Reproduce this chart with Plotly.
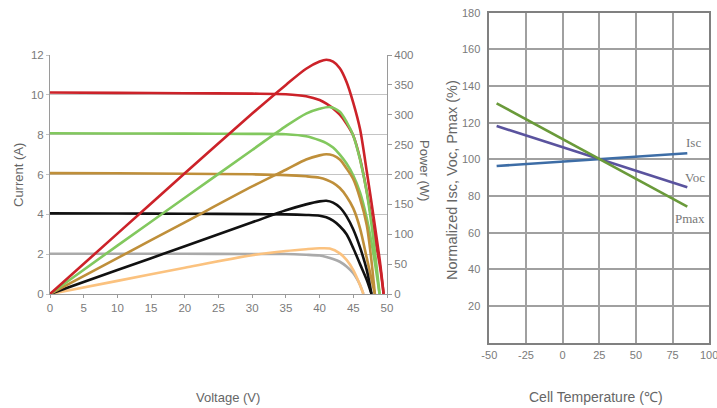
import plotly.graph_objects as go

W, H = 717, 408

# ---------------- Left chart data (I-V and P-V curves) ----------------
v_red_iv = [0, 10, 20, 30, 35, 38, 40, 41, 42, 43, 44, 45, 46, 47, 48, 49, 49.5]
i_red = [10.12, 10.10, 10.08, 10.06, 10.03, 9.93, 9.74, 9.56, 9.32, 9.0, 8.55, 7.95, 6.8, 5.15, 3.2, 1.3, 0]
v_red_p = [0, 10, 20, 30, 35, 38, 40, 41, 42, 43, 44, 45, 46, 47, 48, 49, 49.5]
p_red = [0, 101, 202, 302, 350, 377, 389, 392, 389, 378, 355, 320, 276, 205, 130, 50, 0]

v_green_iv = [0, 10, 20, 30, 35, 38, 40, 41, 42, 43, 44, 45, 46, 47, 48, 48.9]
i_green = [8.07, 8.06, 8.05, 8.04, 8.02, 7.92, 7.72, 7.58, 7.35, 7.0, 6.55, 5.95, 5.1, 3.8, 2.0, 0]
v_green_p = [0, 10, 20, 30, 35, 38, 40, 41.5, 43, 44, 45, 46, 47, 48, 48.9]
p_green = [0, 81, 161, 241, 281, 302, 310, 313, 305, 288, 265, 225, 170, 90, 0]

v_gold_iv = [0, 10, 20, 30, 35, 38, 40, 41, 42, 43, 44, 45, 46, 47, 48.2]
i_gold = [6.07, 6.06, 6.04, 6.01, 5.97, 5.91, 5.84, 5.74, 5.58, 5.32, 4.9, 4.3, 3.3, 1.8, 0]
v_gold_p = [0, 10, 20, 30, 35, 38, 40, 41, 42, 43, 44, 45, 46, 47, 47.6, 48.2]
p_gold = [0, 60, 120, 180, 208, 225, 232, 234, 232, 225, 210, 192, 160, 115, 65, 0]

v_black_iv = [0, 10, 20, 30, 35, 38, 40, 41, 42, 43, 44, 45, 46, 47, 47.7]
i_black = [4.05, 4.04, 4.03, 4.01, 4.0, 3.97, 3.93, 3.85, 3.68, 3.4, 3.0, 2.3, 1.5, 0.7, 0]
v_black_p = [0, 10, 20, 30, 35, 38, 40, 41, 42, 43, 44, 45, 46, 47, 47.7]
p_black = [0, 40, 80, 120, 140, 150, 155, 156, 153, 145, 130, 108, 78, 40, 0]

v_gray_iv = [0, 10, 20, 30, 35, 38, 40, 41, 42, 43, 44, 45, 45.5, 46, 46.5]
i_gray = [2.02, 2.02, 2.02, 2.01, 2.01, 1.97, 1.93, 1.86, 1.76, 1.62, 1.38, 1.04, 0.78, 0.45, 0]
v_orange_p = [0, 10, 20, 30, 35, 38, 40, 41.5, 43, 44, 45, 46, 46.5]
p_orange = [0, 22, 44, 65, 72, 75, 76.5, 76, 68, 57, 40, 15, 0]

current_ticks = [0, 2, 4, 6, 8, 10, 12]
power_ticks = [0, 50, 100, 150, 200, 250, 300, 350, 400]
voltage_ticks = [0, 5, 10, 15, 20, 25, 30, 35, 40, 45, 50]

# ---------------- Right chart data (temperature coefficients) ----------------
temp_x = [-45, 85]
isc_y = [96.4, 103.3]
voc_y = [118.2, 84.8]
pmax_y = [130.6, 74.2]
temp_ticks = [-50, -25, 0, 25, 50, 75, 100]
temp_labels = ["-50", "-25", "0", "25", "50", "75", "100"]
norm_ticks = [20, 40, 60, 80, 100, 120, 140, 160, 180]

RED = "#cc2229"
GREEN = "#82c85e"
GOLD = "#bf8f3a"
BLACK = "#111111"
GRAY = "#aaaaaa"
ORANGE = "#fbc27f"

fig = go.Figure()

def add_line(x, y, color, yaxis="y", xaxis="x", width=2.6):
    fig.add_trace(go.Scatter(x=x, y=y, mode="lines", xaxis=xaxis, yaxis=yaxis,
                             line=dict(color=color, width=width, shape="spline", smoothing=0.8),
                             hoverinfo="skip", showlegend=False))

add_line(v_gray_iv, i_gray, GRAY)
add_line(v_orange_p, p_orange, ORANGE, yaxis="y2")
add_line(v_black_iv, i_black, BLACK)
add_line(v_black_p, p_black, BLACK, yaxis="y2")
add_line(v_gold_iv, i_gold, GOLD)
add_line(v_gold_p, p_gold, GOLD, yaxis="y2")
add_line(v_green_iv, i_green, GREEN)
add_line(v_green_p, p_green, GREEN, yaxis="y2")
add_line(v_red_iv, i_red, RED)
add_line(v_red_p, p_red, RED, yaxis="y2")

for yy, col in [(isc_y, "#3d6da6"), (voc_y, "#5a539e"), (pmax_y, "#6a9a3a")]:
    fig.add_trace(go.Scatter(x=temp_x, y=yy, mode="lines", xaxis="x2", yaxis="y3",
                             line=dict(color=col, width=2.6), hoverinfo="skip", showlegend=False))

def px_x(p):
    return p / W

def px_y(p):
    return 1 - p / H

tick_font = dict(family="Liberation Sans, Arial, sans-serif", size=11.5, color="#7a7a7a")
tick_font_r = dict(family="Liberation Sans, Arial, sans-serif", size=11, color="#7a7a7a")
title_font = dict(family="Liberation Sans, Arial, sans-serif", size=13, color="#666666")

fig.update_layout(
    width=W, height=H,
    margin=dict(l=0, r=0, t=0, b=0, autoexpand=False),
    paper_bgcolor="white", plot_bgcolor="white",
    showlegend=False,
    xaxis=dict(domain=[px_x(50), px_x(387)], range=[0, 50], tickvals=voltage_ticks,
               showgrid=False, zeroline=False, showline=True, linecolor="#9a9a9a", linewidth=1,
               ticks="outside", ticklen=3, tickcolor="#9a9a9a", tickfont=tick_font,
               anchor="y", automargin=False),
    yaxis=dict(domain=[px_y(294), px_y(55)], range=[0, 12], tickvals=current_ticks,
               showgrid=True, gridcolor="#c4c4c4", gridwidth=1, zeroline=False,
               showline=True, linecolor="#9a9a9a", linewidth=1,
               ticks="outside", ticklen=3, tickcolor="#c4c4c4", tickfont=tick_font,
               anchor="x", automargin=False),
    yaxis2=dict(overlaying="y", side="right", range=[0, 400], tickvals=power_ticks,
                showgrid=False, zeroline=False, showline=True, linecolor="#9a9a9a", linewidth=1,
                ticks="outside", ticklen=4, tickcolor="#9a9a9a", tickfont=tick_font,
                anchor="x", automargin=False),
    xaxis2=dict(domain=[px_x(489.3), px_x(709.3)], range=[-50, 100], tickvals=temp_ticks[:-1],
                ticktext=temp_labels[:-1],
                showgrid=True, gridcolor="#a0a0a0", gridwidth=1.5, zeroline=False,
                showline=True, mirror=True, linecolor="#808080", linewidth=1.5,
                ticks="outside", ticklen=1, tickcolor="rgba(0,0,0,0)", tickfont=tick_font_r,
                anchor="y3", automargin=False),
    yaxis3=dict(domain=[px_y(342.7), px_y(12.7)], range=[0, 180], tickvals=norm_ticks,
                showgrid=True, gridcolor="#a0a0a0", gridwidth=1.5, zeroline=False,
                showline=True, mirror=True, linecolor="#808080", linewidth=1.5,
                ticks="outside", ticklen=5, tickcolor="rgba(0,0,0,0)", tickfont=tick_font_r,
                anchor="x2", automargin=False),
)

ann = []
def paper_text(text, x, y, angle=0, font=title_font, xanchor="center"):
    ann.append(dict(text=text, x=px_x(x), y=px_y(y), xref="paper", yref="paper",
                    showarrow=False, textangle=angle, font=font, xanchor=xanchor, yanchor="middle"))

paper_text("Current (A)", 18, 175, -90)
paper_text("Power (W)", 425, 170, 90)
paper_text("Voltage (V)", 228, 397)
paper_text("Normalized Isc, Voc, Pmax (%)", 452, 180, -90,
           dict(family="Liberation Sans, Arial, sans-serif", size=14.5, color="#666666"))
paper_text("Cell Temperature (\u2103)", 596, 397, 0,
           dict(family="Liberation Sans, Arial, sans-serif", size=14, color="#666666"))
# last temperature tick label, partly at the right edge as in the original
ann.append(dict(text=temp_labels[-1], x=temp_ticks[-1], y=px_y(355), xref="x2", yref="paper",
                showarrow=False, font=tick_font_r, xanchor="center", yanchor="middle"))

serif = dict(family="Liberation Serif, Times New Roman, serif", size=13, color="#777777")
for txt, xv, yv in [("Isc", 89, 109), ("Voc", 90, 90), ("Pmax", 87, 67.5)]:
    ann.append(dict(text=txt, x=xv, y=yv, xref="x2", yref="y3", showarrow=False,
                    font=serif, xanchor="center", yanchor="middle"))

fig.update_layout(annotations=ann)

fig.write_html("out.html", config={"displayModeBar": False},
               post_script="document.body.style.margin='0px';document.body.style.overflow='hidden';")
